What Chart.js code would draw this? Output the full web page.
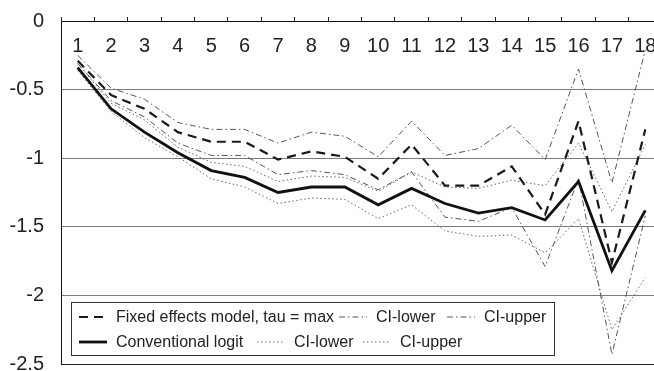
<!DOCTYPE html>
<html>
<head>
<meta charset="utf-8">
<script src="https://cdn.jsdelivr.net/npm/chart.js@4.4.1/dist/chart.umd.min.js"></script>
<style>
  html, body { margin: 0; padding: 0; background: #fff; overflow: hidden; }
  #wrap { width: 654px; height: 371px; overflow: hidden; position: relative; }
  canvas { display: block; }
</style>
</head>
<body>
<div id="wrap"><canvas id="c" width="680" height="371"></canvas></div>
<script>
const categories = ['1','2','3','4','5','6','7','8','9','10','11','12','13','14','15','16','17','18'];
const yTicks = [0, -0.5, -1, -1.5, -2, -2.5];

const fixedEst   = [-0.29,-0.54,-0.64,-0.81,-0.88,-0.88,-1.01,-0.95,-0.99,-1.15,-0.90,-1.20,-1.20,-1.06,-1.41,-0.73,-1.76,-0.79];
const fixedLower = [-0.31,-0.58,-0.70,-0.89,-0.98,-0.98,-1.12,-1.09,-1.12,-1.23,-1.10,-1.43,-1.46,-1.36,-1.79,-1.15,-2.43,-1.42];
const fixedUpper = [-0.25,-0.49,-0.57,-0.74,-0.79,-0.79,-0.89,-0.81,-0.84,-0.99,-0.73,-0.98,-0.93,-0.76,-1.01,-0.35,-1.18,-0.21];
const logitEst   = [-0.34,-0.64,-0.81,-0.96,-1.09,-1.14,-1.25,-1.21,-1.21,-1.34,-1.22,-1.33,-1.40,-1.36,-1.45,-1.17,-1.82,-1.38];
const logitLower = [-0.36,-0.66,-0.85,-0.99,-1.15,-1.21,-1.33,-1.29,-1.30,-1.44,-1.34,-1.53,-1.57,-1.56,-1.69,-1.44,-2.25,-1.87];
const logitUpper = [-0.31,-0.60,-0.72,-0.92,-1.03,-1.06,-1.17,-1.13,-1.14,-1.24,-1.10,-1.21,-1.22,-1.16,-1.20,-0.89,-1.39,-0.90];

const FONT = "'Liberation Sans', Arial, sans-serif";

const styles = {
  fixed:  { color: '#1a1a1a', width: 2.2, dash: [9, 6] },
  fixedCI:{ color: '#555555', width: 1,   dash: [6, 3, 1.5, 3] },
  logit:  { color: '#111111', width: 2.8, dash: [] },
  logitCI:{ color: '#666666', width: 1,   dash: [1.5, 2.5] }
};

function ds(label, data, st) {
  return {
    label, data,
    borderColor: st.color, borderWidth: st.width, borderDash: st.dash,
    pointRadius: 0, pointHoverRadius: 0, tension: 0, fill: false,
    borderCapStyle: 'butt', borderJoinStyle: 'miter'
  };
}

const legendRows = [
  [ {st: styles.fixed,   x: 79,  text: 'Fixed effects model, tau = max'},
    {st: styles.fixedCI, x: 339, text: 'CI-lower'},
    {st: styles.fixedCI, x: 447, text: 'CI-upper'} ],
  [ {st: styles.logit,   x: 79,  text: 'Conventional logit'},
    {st: styles.logitCI, x: 257, text: 'CI-lower'},
    {st: styles.logitCI, x: 363, text: 'CI-upper'} ]
];

const legendPlugin = {
  id: 'boxLegend',
  afterDraw(chart) {
    const ctx = chart.ctx;
    ctx.save();
    ctx.fillStyle = '#ffffff';
    ctx.fillRect(71.5, 302.5, 483, 53);
    ctx.strokeStyle = '#333333';
    ctx.lineWidth = 1;
    ctx.setLineDash([]);
    ctx.strokeRect(71.5, 302.5, 483, 53);
    const rowY = [317, 342];
    ctx.font = '16px ' + FONT;
    ctx.textBaseline = 'middle';
    ctx.textAlign = 'left';
    legendRows.forEach((row, r) => {
      row.forEach(item => {
        ctx.beginPath();
        ctx.strokeStyle = item.st.color;
        ctx.lineWidth = item.st.width;
        ctx.setLineDash(item.st.dash);
        ctx.moveTo(item.x, rowY[r]);
        ctx.lineTo(item.x + 28, rowY[r]);
        ctx.stroke();
        ctx.setLineDash([]);
        ctx.fillStyle = '#222222';
        ctx.fillText(item.text, item.x + 37, rowY[r] + 1);
      });
    });
    ctx.restore();
  }
};

new Chart(document.getElementById('c'), {
  type: 'line',
  data: {
    labels: categories,
    datasets: [
      ds('Conventional logit', logitEst, styles.logit),
      ds('Fixed effects model, tau = max', fixedEst, styles.fixed),
      ds('CI-lower', fixedLower, styles.fixedCI),
      ds('CI-upper', fixedUpper, styles.fixedCI),
      ds('CI-lower', logitLower, styles.logitCI),
      ds('CI-upper', logitUpper, styles.logitCI)
    ]
  },
  options: {
    responsive: false,
    animation: false,
    devicePixelRatio: 1,
    layout: { padding: { left: 0, top: 0, right: 18, bottom: 7 } },
    plugins: { legend: { display: false }, tooltip: { enabled: false } },
    scales: {
      x: {
        type: 'category',
        position: 'top',
        offset: true,
        grid: { offset: true, drawOnChartArea: false, drawTicks: true, tickLength: 4, color: '#222222', lineWidth: 1 },
        border: { display: true, color: '#111111', width: 1 },
        ticks: { autoSkip: false, maxRotation: 0, minRotation: 0, mirror: true, padding: 13, color: '#222222',
                 font: { family: FONT, size: 20 } },
        afterFit(scale) { scale.height = 21; scale.paddingLeft = 0; scale.paddingRight = 0; scale.paddingTop = 0; scale.paddingBottom = 0; }
      },
      y: {
        min: -2.5, max: 0,
        afterBuildTicks(scale) { scale.ticks = yTicks.map(v => ({ value: v })); },
        grid: {
          drawTicks: false,
          color: ctx => (ctx.tick && (ctx.tick.value === -2.5 || ctx.tick.value === 0)) ? '#222222' : '#7a7a7a',
          lineWidth: 1
        },
        border: { display: true, color: '#111111', width: 1 },
        ticks: { padding: 17, color: '#222222', font: { family: FONT, size: 20 },
                 callback: v => String(v) },
        afterFit(scale) { scale.width = 61; scale.paddingTop = 0; scale.paddingBottom = 0; scale.paddingLeft = 0; scale.paddingRight = 0; }
      }
    }
  },
  plugins: [legendPlugin]
});
</script>
</body>
</html>
